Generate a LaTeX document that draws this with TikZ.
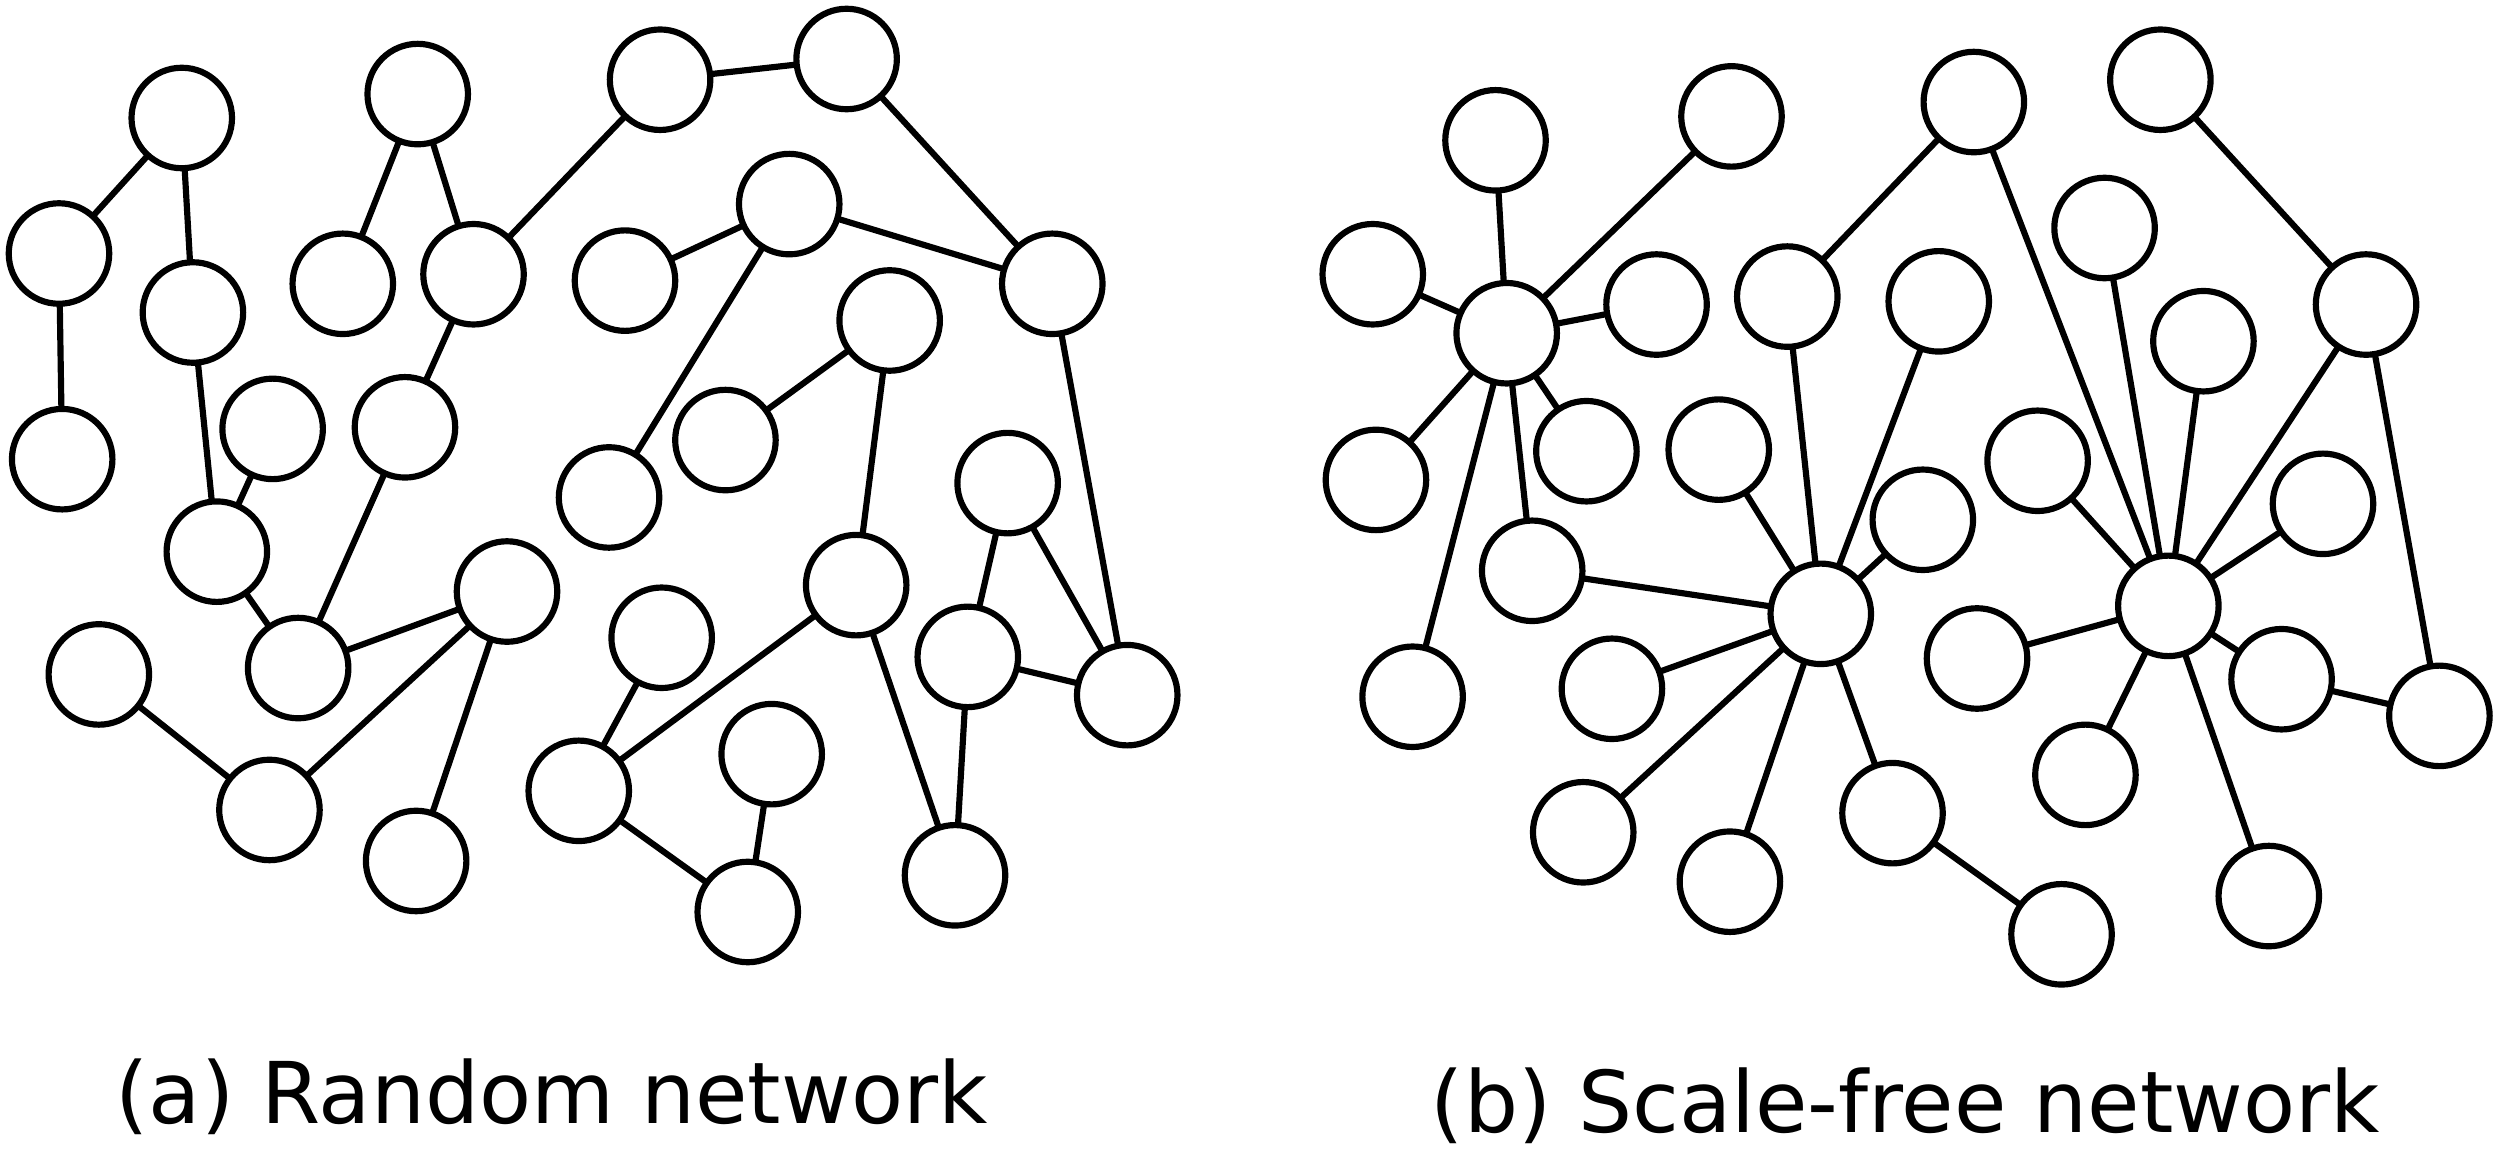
\documentclass[tikz,border=0pt]{standalone}
\usepackage{fontspec}
\setmainfont{DejaVu Sans}
\begin{document}
\begin{tikzpicture}[x=0.01cm,y=-0.01cm,
  vtx/.style={circle,draw=black,line width=1.1pt,minimum size=0.63cm,inner sep=0pt,outer sep=0pt,fill=white},
  lnk/.style={line width=1.1pt,black},
  captext/.style={anchor=base,inner sep=0pt,font=\fontsize{15.2}{18}\selectfont}]
\useasboundingbox (0,0) rectangle (1568,724);
% left network
\foreach \n/\x/\y in {A1/114/74, A2/37/159, A3/39/288, A4/121/196, A5/171/269, A6/136/346,
  A7/62/423, A8/187/419, A9/169/508, A10/261/540, A11/318/371, A12/254/268, A13/215/178,
  A14/262/59, A15/297/172, A16/414/50, A17/531/37, A18/392/176, A19/495/128, A20/660/178,
  A21/558/201, A22/455/276, A23/382/312, A24/415/400, A25/363/496, A26/484/473, A27/469/572,
  A28/537/367, A29/632/303, A30/607/412, A31/707/436, A32/599/549}
  \node[vtx] (\n) at (\x,\y) {};
% right network
\foreach \n/\x/\y in {B1/938/88, B2/861/172, B3/945/209, B4/1086/73, B5/1039/191, B6/863/301,
  B7/995/283, B8/961/358, B9/886/437, B10/1238/64, B11/1121/186, B12/1216/189, B13/1078/282,
  B14/1206/326, B15/1142/385, B16/1011/432, B17/993/522, B18/1085/553, B19/1187/510,
  B20/1293/586, B21/1355/50, B22/1320/143, B23/1382/214, B24/1484/191, B25/1278/289,
  B26/1457/316, B27/1360/380, B28/1240/413, B29/1431/426, B30/1308/486, B31/1423/562,
  B32/1530/449}
  \node[vtx] (\n) at (\x,\y) {};
% left edges
\foreach \a/\b in {A1/A2, A1/A4, A2/A3, A4/A6, A5/A6, A6/A8, A7/A9, A9/A11, A8/A11, A11/A10,
  A12/A8, A12/A15, A13/A14, A14/A15, A15/A16, A16/A17, A17/A20, A19/A20, A18/A19, A19/A23,
  A21/A22, A21/A28, A28/A25, A24/A25, A25/A27, A26/A27, A28/A32, A20/A31, A29/A30, A29/A31,
  A30/A31, A30/A32}
  \draw[lnk] (\a) -- (\b);
% right edges
\foreach \a/\b in {B3/B1, B3/B2, B3/B4, B3/B5, B3/B6, B3/B7, B3/B8, B3/B9, B8/B15, B15/B11,
  B15/B12, B15/B13, B15/B14, B15/B16, B15/B17, B15/B18, B15/B19, B19/B20, B11/B10, B10/B27,
  B22/B27, B23/B27, B24/B27, B25/B27, B26/B27, B28/B27, B29/B27, B30/B27, B31/B27, B21/B24,
  B24/B32, B29/B32}
  \draw[lnk] (\a) -- (\b);
\node[captext] (capa) at (346,704.5) {(a) Random network};
\node[captext] (capb) at (1195,710) {(b) Scale-free network};
\end{tikzpicture}
\end{document}
